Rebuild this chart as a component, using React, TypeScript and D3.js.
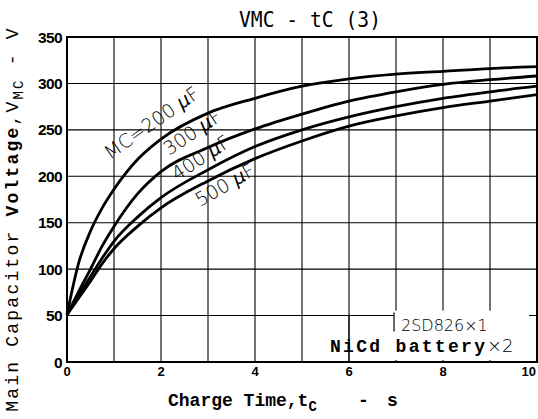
import React from "react";
import * as d3 from "d3";

const width = 538;
const height = 419;
const margin = { top: 37, right: 1, bottom: 57, left: 67 };

// charge time, s
const times = [0, 0.25, 0.5, 0.75, 1, 1.5, 2, 3, 4, 5, 6, 7, 8, 9, 10];
// main capacitor voltage, V
const v200 = [51, 107, 141, 166, 186, 218, 240, 268, 284, 297, 305, 310, 313, 316, 318];
const v300 = [51, 76, 100, 125, 146, 181, 205, 231, 251, 267, 281, 291, 299, 304, 308];
const v400 = [51, 72, 92, 112, 130, 156, 177, 207, 232, 250, 264, 275, 284, 291, 297];
const v500 = [51, 69, 87, 106, 122, 146, 166, 195, 219, 238, 254, 265, 274, 281, 288];
const series = [v200, v300, v400, v500];

const xTicks = [0, 2, 4, 6, 8, 10];
const yTicks = [0, 50, 100, 150, 200, 250, 300, 350];

const mono = "'Liberation Mono', 'DejaVu Sans Mono', monospace";
const sans = "'DejaVu Sans', 'Liberation Sans', sans-serif";

export default function App() {
  const x = d3.scaleLinear().domain([0, 10]).range([margin.left, width - margin.right]);
  const y = d3.scaleLinear().domain([0, 350]).range([height - margin.bottom, margin.top]);

  const line = d3
    .line<number>()
    .x((d, i) => x(times[i]))
    .y(d => y(d))
    .curve(d3.curveMonotoneX);

  const [x0, x1] = x.range();
  const [y0, y1] = y.range();

  return (
    <svg
      width={width}
      height={height}
      style={{ position: "absolute", left: 0, top: 0, background: "#fff" }}
    >
      {/* grid */}
      {d3.range(0, 11).map(t => (
        <line key={"gx" + t} x1={x(t)} x2={x(t)} y1={y1} y2={y0} stroke="#000" strokeWidth={1.1} />
      ))}
      {yTicks.map(v => (
        <line key={"gy" + v} x1={x0} x2={x1} y1={y(v)} y2={y(v)} stroke="#000" strokeWidth={1.1} />
      ))}

      {/* box behind the note */}
      <rect x={x(7) - 2} y={y(50) - 5} width={x(10) - x(7) - 6} height={y(0) - y(50) + 3} fill="#fff" />
      <line x1={x(7) - 2} x2={x(7) - 2} y1={y(50) - 3} y2={y(50) + 16} stroke="#000" strokeWidth={1.2} />
      <line x1={x(6)} x2={x(6)} y1={y(50)} y2={y0} stroke="#000" strokeWidth={1.1} />

      {/* frame */}
      <rect x={x0} y={y1} width={x1 - x0} height={y0 - y1} fill="none" stroke="#000" strokeWidth={2} />

      {/* curves */}
      {series.map((s, i) => (
        <path key={i} d={line(s) || ""} fill="none" stroke="#000" strokeWidth={2.8} />
      ))}

      {/* y tick labels */}
      {yTicks.map(v => (
        <text
          key={"ty" + v}
          x={x0 - 5}
          y={y(v)}
          dy="0.36em"
          textAnchor="end"
          fontFamily="'Liberation Sans', Arial, sans-serif"
          fontWeight="bold"
          fontSize={15.5}
          letterSpacing={-0.6}
        >
          {v}
        </text>
      ))}

      {/* x tick labels */}
      {xTicks.map(t => (
        <text
          key={"tx" + t}
          x={t === 10 ? x(t) - 1 : x(t)}
          y={y0 + 14}
          textAnchor={t === 10 ? "end" : "middle"}
          fontFamily="'Liberation Sans', Arial, sans-serif"
          fontWeight="bold"
          fontSize={13}
        >
          {t}
        </text>
      ))}

      {/* title */}
      <text
        x={310}
        y={27}
        textAnchor="middle"
        fontFamily="'DejaVu Sans Mono', monospace"
        fontSize={21}
        textLength={142}
        lengthAdjust="spacingAndGlyphs"
      >
        VMC - tC (3)
      </text>

      {/* x axis title */}
      <text x={168} y={406} fontFamily={mono} fontWeight="bold" fontSize={18}>
        Charge Time,t
        <tspan fontSize={14} dy={5}>C</tspan>
        <tspan x={358} dy={-5}>-</tspan>
        <tspan x={387}>s</tspan>
      </text>

      {/* y axis title */}
      <text
        transform="translate(18,219) rotate(-90)"
        textAnchor="middle"
        fontFamily={mono}
        fontSize={18}
        letterSpacing={2.2}
      >
        Main Capacitor <tspan fontWeight="bold">Voltage</tspan>,V
        <tspan fontSize={14} dy={5}>MC</tspan>
        <tspan dy={-5}> - V</tspan>
      </text>

      {/* curve labels */}
      <text transform="translate(110,160) rotate(-35)" fontFamily={sans} fontWeight={200} fontSize={19}>
        MC=200 <tspan fontStyle="italic">μ</tspan>F
      </text>
      <text transform="translate(169,156) rotate(-34)" fontFamily={sans} fontWeight={200} fontSize={19}>
        300 <tspan fontStyle="italic">μ</tspan>F
      </text>
      <text transform="translate(177,181) rotate(-33)" fontFamily={sans} fontWeight={200} fontSize={19}>
        400 <tspan fontStyle="italic">μ</tspan>F
      </text>
      <text transform="translate(200,207) rotate(-30)" fontFamily={sans} fontWeight={200} fontSize={19}>
        500 <tspan fontStyle="italic">μ</tspan>F
      </text>

      {/* note */}
      <text x={401} y={331} fontFamily={sans} fontWeight={200} fontSize={16}>
        2SD826×1
      </text>
      <text x={330} y={352} fontFamily={mono} fontWeight="bold" fontSize={18} textLength={155} lengthAdjust="spacing">
        NiCd battery
      </text>
      <text x={487} y={352} fontFamily={sans} fontWeight={200} fontSize={18}>
        ×2
      </text>
    </svg>
  );
}
